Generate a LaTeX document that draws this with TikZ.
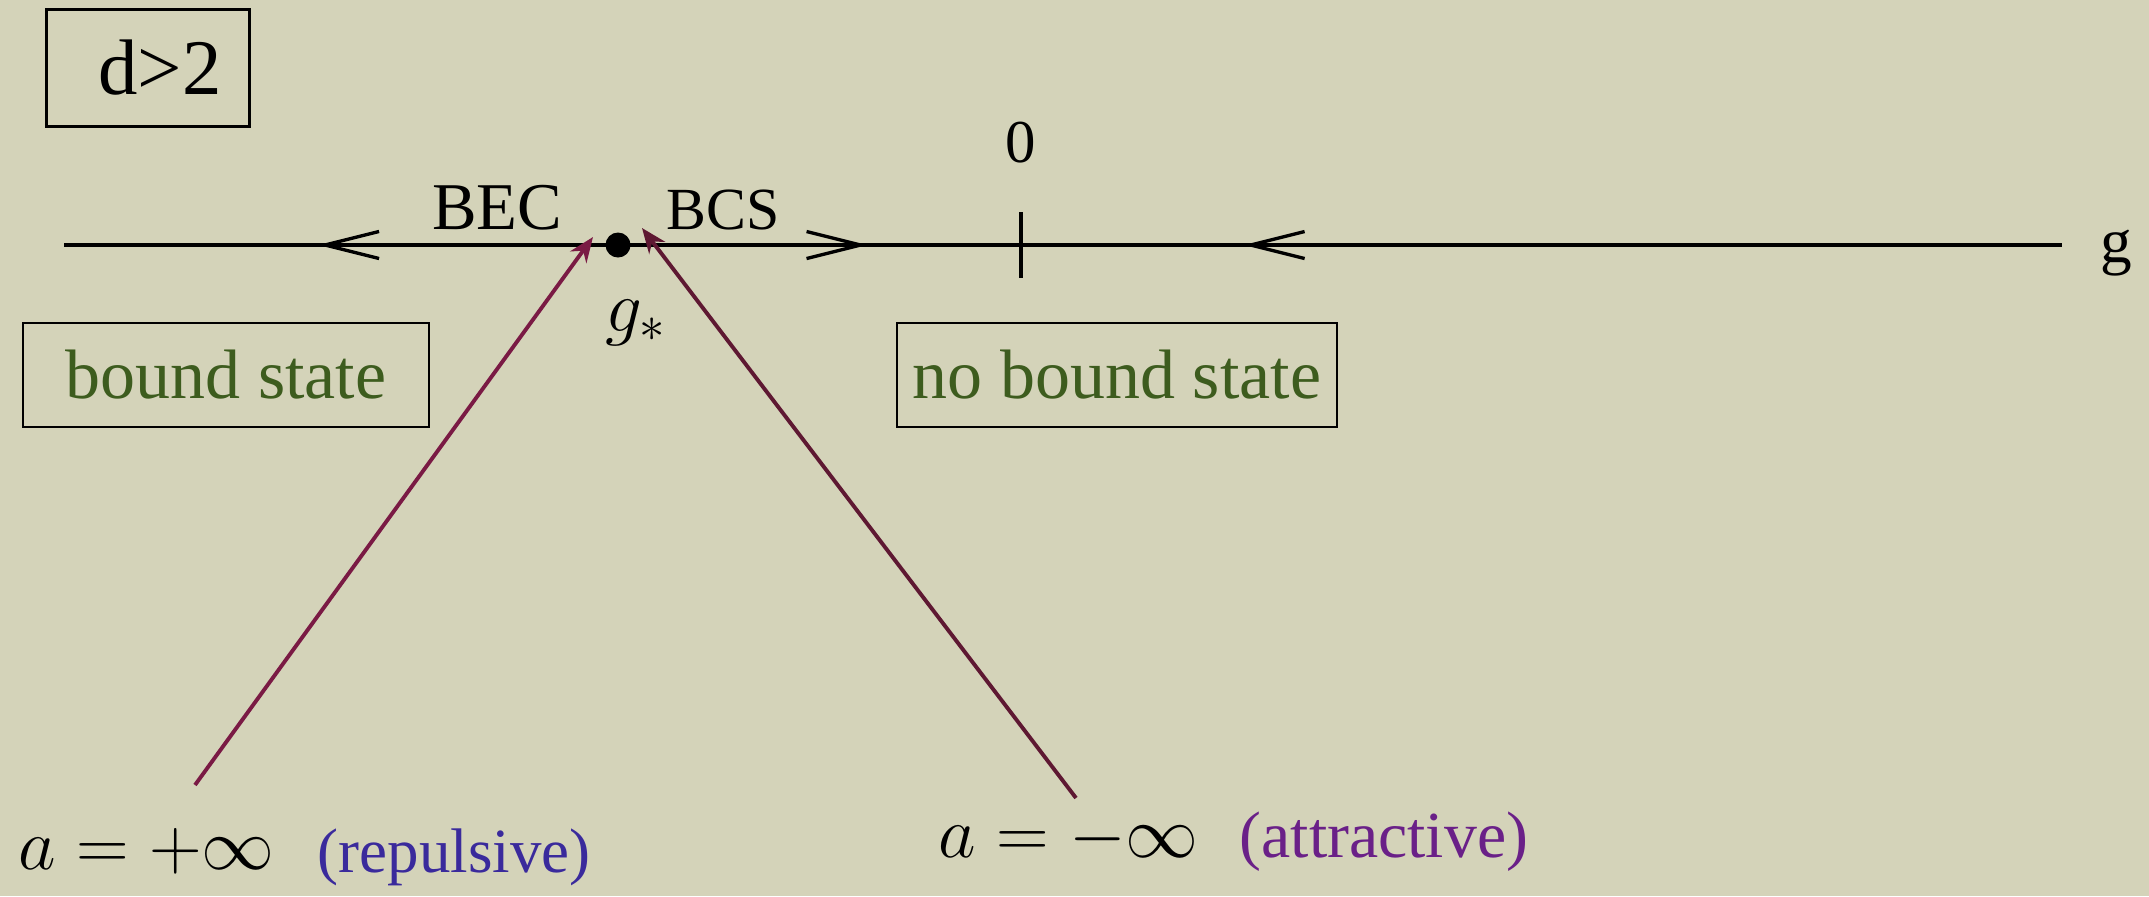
\documentclass[tikz,border=0pt]{standalone}
\usepackage{fontspec}
\setmainfont{Liberation Serif}
\usetikzlibrary{arrows.meta, positioning, decorations.markings}
\definecolor{paperbeige}{HTML}{D4D3B9}
\definecolor{flowmaroon}{HTML}{7A1A44}
\definecolor{flowdark}{HTML}{5E1832}
\definecolor{stategreen}{HTML}{3D5C1E}
\definecolor{repblue}{HTML}{3A2A9C}
\definecolor{attpurple}{HTML}{6A2088}
\tikzset{chevron/.tip={Straight Barb[length=0.54cm, width=0.27cm]}}

\begin{document}
\begin{tikzpicture}[
  x=0.01cm, y=-0.01cm,
  axis/.style={line width=0.95pt},
  regime/.style={draw, line width=0.6pt, inner sep=0pt, minimum height=1.04cm,
    text=stategreen, font=\fontsize{19.9}{24}\selectfont},
  flow/.style={line width=1.1pt, -{Stealth[length=0.25cm, width=0.2cm]}},
  mathlab/.style={anchor=base west, inner sep=0pt, font=\fontsize{19.9}{24}\selectfont},
  sidelab/.style={anchor=base west, inner sep=0pt}
]
\useasboundingbox (0,0) rectangle (2149,896);
\fill[paperbeige] (0,0) rectangle (2149,896);

% dimension tag
\node[draw, line width=0.85pt, minimum width=2.02cm, minimum height=1.16cm, inner sep=0pt,
  font=\fontsize{22.4}{26}\selectfont] (dim) at (148,68) {\hspace*{0.24cm}d>2};

% coupling axis
\coordinate (axl) at (64,245);
\coordinate (axr) at (2062,245);
\coordinate (zero) at (1021,245);
\draw[axis, postaction={decorate}, decoration={markings,
    mark=at position 2.54cm with {\arrowreversed{chevron}},
    mark=at position 8.03cm with {\arrow{chevron}},
    mark=at position 11.79cm with {\arrowreversed{chevron}}}] (axl) -- (axr);
\draw[axis] (1021,212) -- (1021,278);
\node[anchor=base west, inner sep=0pt, font=\fontsize{18}{22}\selectfont] (glab) at (2100,262) {g};
\node[anchor=base, font=\fontsize{17.3}{20}\selectfont] (zerolab) at (1021,162) {0};
\node[anchor=base, font=\fontsize{19}{23}\selectfont] (bec) at (497,229) {BEC};
\node[anchor=base, font=\fontsize{17}{20}\selectfont] (bcs) at (723,229) {BCS};

% fixed point
\node[circle, fill, inner sep=0pt, minimum size=0.25cm] (fp) at (618,245) {};
\node[anchor=base, font=\fontsize{19.9}{24}\selectfont] (gstar) at (636,331) {$g_*$};

% regimes
\node[regime, minimum width=4.06cm] (bound) at (226,375) {bound state};
\node[regime, minimum width=4.40cm] (nobound) at (1117,375) {no bound state};

% unitary limits
\node[mathlab] (aplus) at (18,869) {$a=+\infty$};
\node[sidelab, text=repblue, font=\fontsize{17.9}{21}\selectfont] (rep) at (317,872) {(repulsive)};
\node[mathlab] (aminus) at (938,857) {$a=-\infty$};
\node[sidelab, text=attpurple, font=\fontsize{18.7}{22}\selectfont] (att) at (1239,857) {(attractive)};

\coordinate (repsrc) at (195,785);
\coordinate (reptip) at (593,237);
\coordinate (attsrc) at (1076,798);
\coordinate (atttip) at (642,228);
\draw[flow, flowmaroon] (repsrc) -- (reptip);
\draw[flow, flowdark] (attsrc) -- (atttip);
\end{tikzpicture}
\end{document}
